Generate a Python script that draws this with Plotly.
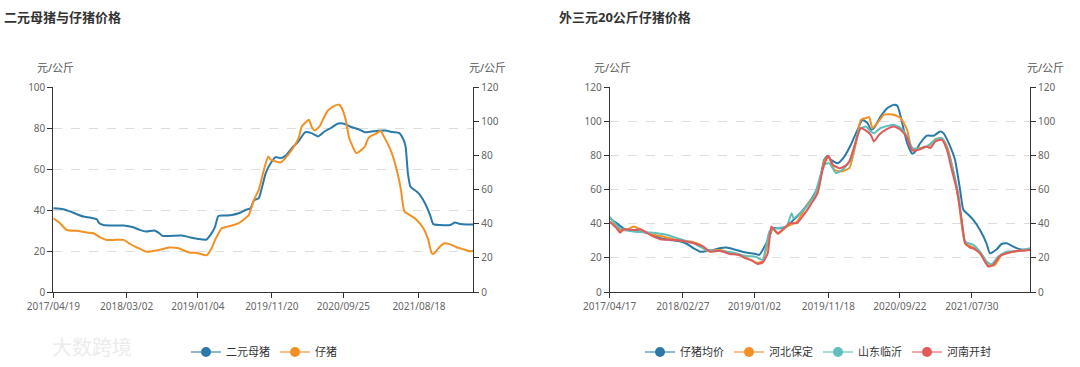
import plotly.graph_objects as go

# ---------------- Left chart: 二元母猪与仔猪价格 ----------------
left_ticks = ["2017-04-19", "2018-03-02", "2019-01-04", "2019-11-20", "2020-09-25", "2021-08-18"]
left_ticktext = ["2017/04/19", "2018/03/02", "2019/01/04", "2019/11/20", "2020/09/25", "2021/08/18"]
left_range = ["2017-04-19", "2022-04-10"]

sow_dates = ["2017-04-19", "2017-06-01", "2017-06-30", "2017-07-29", "2017-08-27", "2017-09-25",
             "2017-10-24", "2017-11-03", "2017-11-22", "2018-01-04", "2018-02-17", "2018-03-31",
             "2018-04-28", "2018-05-26", "2018-06-30", "2018-07-21", "2018-08-04", "2018-09-15",
             "2018-10-27", "2018-12-08", "2019-01-05", "2019-02-11", "2019-03-05", "2019-03-20",
             "2019-04-03", "2019-05-02", "2019-06-01", "2019-06-30", "2019-07-29", "2019-08-20",
             "2019-09-04", "2019-09-25", "2019-10-10", "2019-10-25", "2019-11-16", "2019-12-07",
             "2019-12-28", "2020-01-18", "2020-02-15", "2020-03-15", "2020-04-12", "2020-05-10",
             "2020-06-07", "2020-07-05", "2020-08-02", "2020-08-31", "2020-09-28", "2020-10-28",
             "2020-11-27", "2020-12-27", "2021-01-25", "2021-02-24", "2021-03-26", "2021-04-25",
             "2021-05-25", "2021-06-09", "2021-06-21", "2021-07-01", "2021-07-12", "2021-08-08",
             "2021-08-22", "2021-09-13", "2021-10-05", "2021-10-19", "2021-11-17", "2021-12-30",
             "2022-01-21", "2022-02-11", "2022-03-12", "2022-04-10"]
sow_vals = [40.9, 40.4, 39.3, 38.0, 36.8, 36.3,
            35.5, 33.6, 32.7, 32.4, 32.4, 31.6,
            30.3, 29.5, 30.0, 28.7, 27.4, 27.4,
            27.5, 26.5, 25.9, 25.6, 28.7, 31.9,
            37.1, 37.3, 37.6, 38.4, 40.0, 40.9,
            44.6, 45.8, 51.5, 58.0, 62.9, 65.8,
            65.3, 66.4, 70.2, 73.5, 77.9, 77.5,
            75.9, 78.3, 80.0, 82.1, 82.1, 80.5,
            79.5, 77.9, 78.3, 78.7, 78.8, 78.0,
            77.5, 75.0, 71.0, 58.0, 51.5, 49.0,
            47.4, 43.3, 37.6, 33.1, 32.7, 32.7,
            33.9, 33.2, 32.9, 32.9]

piglet_dates = ["2017-04-19", "2017-05-18", "2017-06-16", "2017-07-29", "2017-09-11", "2017-10-10",
                "2017-11-08", "2017-12-07", "2018-01-04", "2018-02-17", "2018-03-17", "2018-04-14",
                "2018-05-26", "2018-06-23", "2018-07-21", "2018-09-01", "2018-10-13", "2018-11-24",
                "2019-01-05", "2019-02-11", "2019-03-05", "2019-03-20", "2019-04-18", "2019-06-01",
                "2019-06-30", "2019-07-29", "2019-08-13", "2019-09-04", "2019-09-25", "2019-10-17",
                "2019-11-05", "2019-11-16", "2019-12-07", "2019-12-28", "2020-01-18", "2020-02-15",
                "2020-03-15", "2020-03-29", "2020-04-12", "2020-04-29", "2020-05-10", "2020-05-24",
                "2020-06-14", "2020-06-28", "2020-07-19", "2020-08-17", "2020-09-07", "2020-09-21",
                "2020-10-05", "2020-10-20", "2020-11-04", "2020-11-19", "2020-12-04", "2020-12-27",
                "2021-01-11", "2021-01-25", "2021-02-17", "2021-03-04", "2021-03-19", "2021-04-10",
                "2021-04-25", "2021-05-17", "2021-06-01", "2021-06-16", "2021-07-09", "2021-08-08",
                "2021-09-06", "2021-09-27", "2021-10-12", "2021-10-19", "2021-11-17", "2021-12-08",
                "2022-01-06", "2022-01-28", "2022-02-26", "2022-03-26", "2022-04-10"]
piglet_vals = [43.2, 40.3, 36.3, 35.8, 34.8, 34.4,
               32.0, 30.5, 30.5, 30.5, 28.1, 26.2,
               23.6, 24.0, 24.6, 26.0, 25.6, 23.3,
               22.7, 21.5, 25.6, 30.5, 37.3, 38.9,
               40.3, 43.2, 45.1, 53.9, 59.8, 71.5,
               79.3, 77.4, 76.4, 75.8, 78.4, 83.3,
               90.1, 96.9, 98.9, 100.8, 96.9, 94.6,
               96.9, 100.8, 106.1, 109.0, 109.6, 106.7,
               100.8, 90.1, 85.2, 81.3, 82.3, 85.2,
               90.1, 91.5, 93.0, 94.4, 91.1, 85.2,
               80.3, 69.6, 59.8, 47.1, 45.1, 42.2,
               37.3, 30.5, 22.7, 22.3, 26.6, 28.5,
               27.6, 26.2, 25.0, 23.8, 24.2]

# ---------------- Right chart: 外三元20公斤仔猪价格 ----------------
right_ticks = ["2017-04-17", "2018-02-27", "2019-01-02", "2019-11-18", "2020-09-22", "2021-07-30"]
right_ticktext = ["2017/04/17", "2018/02/27", "2019/01/02", "2019/11/18", "2020/09/22", "2021/07/30"]
right_range = ["2017-04-17", "2022-04-07"]

avg_dates = ["2017-04-17", "2017-05-17", "2017-06-15", "2017-07-14", "2017-08-27", "2017-10-09",
             "2017-11-22", "2018-01-04", "2018-02-17", "2018-03-17", "2018-04-15", "2018-05-13",
             "2018-06-10", "2018-07-08", "2018-08-05", "2018-09-03", "2018-10-15", "2018-11-26",
             "2019-01-08", "2019-01-23", "2019-02-07", "2019-03-08", "2019-03-23", "2019-04-22",
             "2019-05-21", "2019-06-20", "2019-07-19", "2019-08-18", "2019-09-17", "2019-10-09",
             "2019-10-31", "2019-11-15", "2019-11-29", "2019-12-28", "2020-01-26", "2020-02-23",
             "2020-03-23", "2020-04-13", "2020-05-05", "2020-05-19", "2020-06-02", "2020-07-01",
             "2020-07-30", "2020-08-27", "2020-09-11", "2020-09-25", "2020-10-23", "2020-11-14",
             "2020-11-28", "2020-12-19", "2021-01-17", "2021-02-15", "2021-03-15", "2021-03-29",
             "2021-04-27", "2021-05-18", "2021-06-09", "2021-06-23", "2021-07-08", "2021-08-05",
             "2021-09-03", "2021-10-01", "2021-10-16", "2021-11-14", "2021-12-05", "2021-12-27",
             "2022-01-25", "2022-02-22", "2022-04-07"]
avg_vals = [43.2, 40.3, 37.3, 36.0, 35.4, 34.0,
            31.5, 30.5, 29.5, 28.1, 25.6, 23.6,
            24.0, 24.6, 25.6, 26.0, 24.6, 23.1,
            22.3, 21.7, 24.6, 32.4, 37.3, 37.3,
            38.3, 42.2, 46.1, 51.0, 56.9, 63.7,
            77.4, 79.7, 77.4, 75.4, 79.3, 86.2,
            95.0, 100.8, 98.9, 95.0, 96.0, 102.8,
            107.7, 109.6, 109.0, 102.8, 87.2, 80.9,
            82.3, 87.2, 91.5, 91.5, 94.0, 93.0,
            85.2, 77.4, 59.8, 48.1, 46.1, 42.2,
            36.3, 28.5, 22.7, 25.0, 28.1, 28.5,
            26.6, 25.0, 24.6]

hebei_dates = ["2017-04-17", "2017-06-01", "2017-06-30", "2017-07-29", "2017-08-27", "2017-10-09",
               "2017-12-06", "2018-02-02", "2018-03-31", "2018-05-13", "2018-06-10", "2018-08-05",
               "2018-10-01", "2018-11-26", "2019-01-08", "2019-02-07", "2019-03-08", "2019-03-23",
               "2019-04-14", "2019-05-21", "2019-07-05", "2019-08-18", "2019-10-02", "2019-10-31",
               "2019-11-18", "2019-12-14", "2020-01-11", "2020-02-16", "2020-03-16", "2020-04-06",
               "2020-04-27", "2020-05-12", "2020-05-26", "2020-06-17", "2020-07-15", "2020-08-27",
               "2020-09-25", "2020-10-23", "2020-11-14", "2020-12-19", "2021-01-24", "2021-02-22",
               "2021-03-22", "2021-04-13", "2021-05-11", "2021-06-02", "2021-07-01", "2021-08-05",
               "2021-09-17", "2021-10-09", "2021-11-06", "2021-12-05", "2022-01-25", "2022-04-07"]
hebei_vals = [43.8, 36.3, 36.3, 38.3, 36.7, 34.0,
              32.4, 30.5, 29.5, 27.6, 24.2, 24.6,
              22.7, 20.3, 17.2, 17.8, 32.4, 37.3,
              34.0, 38.3, 41.2, 51.0, 58.8, 76.4,
              79.3, 71.5, 70.6, 72.5, 87.2, 100.8,
              101.8, 102.4, 96.0, 98.9, 103.8, 103.8,
              101.8, 95.0, 83.3, 84.3, 85.2, 89.5,
              90.1, 85.2, 70.6, 53.9, 28.5, 26.0,
              20.7, 15.8, 15.8, 21.7, 23.6, 25.0]

shandong_dates = ["2017-04-17", "2017-06-01", "2017-07-29", "2017-10-09", "2017-12-21", "2018-02-17",
                  "2018-04-15", "2018-06-10", "2018-08-05", "2018-10-01", "2018-11-26", "2019-01-08",
                  "2019-02-07", "2019-03-08", "2019-04-07", "2019-05-21", "2019-06-12", "2019-06-20",
                  "2019-08-03", "2019-09-17", "2019-10-31", "2019-11-22", "2019-12-21", "2020-01-19",
                  "2020-02-23", "2020-03-30", "2020-04-27", "2020-05-19", "2020-06-02", "2020-07-01",
                  "2020-08-27", "2020-09-25", "2020-10-23", "2020-11-14", "2020-12-19", "2021-01-17",
                  "2021-02-22", "2021-03-22", "2021-04-13", "2021-05-11", "2021-06-02", "2021-07-01",
                  "2021-08-05", "2021-09-03", "2021-10-01", "2021-10-23", "2021-11-21", "2021-12-27",
                  "2022-02-22", "2022-04-07"]
shandong_vals = [43.8, 37.3, 35.4, 34.8, 33.4, 30.9,
                 28.5, 24.6, 24.0, 23.1, 21.1, 20.7,
                 18.8, 35.4, 37.3, 38.3, 46.1, 43.2,
                 48.1, 55.9, 74.5, 75.4, 69.6, 71.7,
                 77.4, 95.0, 96.9, 94.0, 93.0, 96.0,
                 97.9, 96.0, 91.1, 84.3, 83.7, 85.2,
                 89.1, 90.1, 84.3, 70.6, 56.9, 29.5,
                 27.6, 23.6, 17.8, 16.2, 20.7, 23.6,
                 24.0, 25.6]

henan_dates = ["2017-04-17", "2017-05-17", "2017-06-01", "2017-06-15", "2017-07-29", "2017-08-27",
               "2017-10-09", "2017-11-22", "2018-01-19", "2018-03-03", "2018-04-15", "2018-05-27",
               "2018-06-24", "2018-08-05", "2018-09-17", "2018-10-29", "2018-11-26", "2018-12-24",
               "2019-01-15", "2019-02-07", "2019-03-01", "2019-03-16", "2019-03-30", "2019-04-14",
               "2019-05-06", "2019-06-05", "2019-07-05", "2019-08-03", "2019-09-02", "2019-10-02",
               "2019-10-24", "2019-11-08", "2019-11-18", "2019-12-07", "2020-01-04", "2020-01-26",
               "2020-02-16", "2020-03-09", "2020-04-06", "2020-04-27", "2020-05-19", "2020-06-02",
               "2020-06-24", "2020-07-23", "2020-08-27", "2020-09-25", "2020-10-23", "2020-11-14",
               "2020-12-12", "2021-01-10", "2021-01-31", "2021-02-22", "2021-03-22", "2021-04-13",
               "2021-05-04", "2021-05-26", "2021-06-16", "2021-07-01", "2021-07-22", "2021-08-05",
               "2021-09-03", "2021-09-24", "2021-10-09", "2021-10-30", "2021-11-28", "2021-12-27",
               "2022-02-08", "2022-03-09", "2022-04-07"]
henan_vals = [41.2, 37.3, 34.8, 36.7, 36.3, 36.7,
              33.4, 30.9, 30.5, 29.9, 28.5, 26.6,
              23.6, 24.2, 22.3, 21.7, 19.7, 18.4,
              16.4, 17.2, 22.7, 38.3, 36.3, 34.4,
              36.7, 40.3, 40.3, 45.1, 51.0, 57.8,
              71.5, 77.4, 79.7, 74.5, 72.5, 73.5,
              76.4, 85.2, 96.0, 94.6, 92.0, 88.1,
              92.0, 95.0, 96.9, 95.0, 90.1, 82.9,
              83.3, 85.2, 84.3, 88.1, 89.1, 83.3,
              71.5, 59.8, 42.2, 28.5, 26.0, 25.6,
              22.7, 17.8, 14.9, 15.8, 21.1, 22.7,
              24.0, 24.2, 24.6]

left_names = ["二元母猪", "仔猪"]
right_names = ["仔猪均价", "河北保定", "山东临沂", "河南开封"]

BLUE = "#2b79a9"
ORANGE = "#f39024"
TEAL = "#5ebfbc"
RED = "#e05a5b"
LIGHT = {BLUE: "#8fb7d0", ORANGE: "#f7c08a", TEAL: "#a9ddda", RED: "#eea6a6"}

FONT = "Noto Sans, Noto Sans CJK SC, sans-serif"
AXIS_C = "#333333"
TICK_C = "#666666"

fig = go.Figure()

def add_line(x, y, color, xa, ya):
    fig.add_trace(go.Scatter(x=x, y=y, mode="lines", xaxis=xa, yaxis=ya,
                             line=dict(color=color, width=2, shape="spline", smoothing=0.5),
                             showlegend=False, hoverinfo="skip"))

add_line(sow_dates, sow_vals, BLUE, "x", "y")
add_line(piglet_dates, piglet_vals, ORANGE, "x", "y2")
add_line(avg_dates, avg_vals, BLUE, "x2", "y3")
add_line(hebei_dates, hebei_vals, ORANGE, "x2", "y3")
add_line(shandong_dates, shandong_vals, TEAL, "x2", "y3")
add_line(henan_dates, henan_vals, RED, "x2", "y4")

def add_legend(name, color, legend):
    fig.add_trace(go.Scatter(x=[None], y=[None], mode="lines+markers", name=name, legend=legend,
                             line=dict(color=LIGHT[color], width=2),
                             marker=dict(color=color, size=10)))

for n, c in zip(left_names, [BLUE, ORANGE]):
    add_legend(n, c, "legend")
for n, c in zip(right_names, [BLUE, ORANGE, TEAL, RED]):
    add_legend(n, c, "legend2")

ydom = [1 - 292 / 367, 1 - 87 / 367]
lxdom = [53.3 / 1080, 473.3 / 1080]
rxdom = [609.7 / 1080, 1030 / 1080]

tickfont = dict(family=FONT, size=10, color=TICK_C)
common_axis = dict(showline=True, linecolor=AXIS_C, linewidth=1, ticks="outside", ticklen=5,
                   tickcolor=AXIS_C, tickfont=tickfont, zeroline=False, automargin=False)

fig.update_layout(
    width=1080, height=367, autosize=False,
    margin=dict(l=0, r=0, t=0, b=0, pad=0, autoexpand=False),
    paper_bgcolor="white", plot_bgcolor="white",
    font=dict(family=FONT, color="#333333"),
    xaxis=dict(domain=lxdom, anchor="y", type="date", range=left_range,
               tickvals=left_ticks, ticktext=left_ticktext, showgrid=False, **common_axis),
    yaxis=dict(domain=ydom, anchor="x", range=[0, 100], dtick=20, showgrid=True,
               gridcolor="#dddddd", griddash="dash", gridwidth=1, **common_axis),
    yaxis2=dict(overlaying="y", anchor="x", side="right", range=[0, 120], dtick=20,
                showgrid=False, **common_axis),
    xaxis2=dict(domain=rxdom, anchor="y3", type="date", range=right_range,
                tickvals=right_ticks, ticktext=right_ticktext, showgrid=False, **common_axis),
    yaxis3=dict(domain=ydom, anchor="x2", range=[0, 120], dtick=20, showgrid=True,
                gridcolor="#dddddd", griddash="dash", gridwidth=1, **common_axis),
    yaxis4=dict(overlaying="y3", anchor="x2", side="right", range=[0, 120], dtick=20,
                showgrid=False, **common_axis),
    legend=dict(orientation="h", x=264 / 1080, xanchor="center", y=1 - 352 / 367, yanchor="middle",
                font=dict(family=FONT, size=11, color="#333333"), itemwidth=30,
                bgcolor="rgba(0,0,0,0)"),
    legend2=dict(orientation="h", x=818 / 1080, xanchor="center", y=1 - 352 / 367, yanchor="middle",
                 font=dict(family=FONT, size=11, color="#333333"), itemwidth=30,
                 bgcolor="rgba(0,0,0,0)"),
)

annos = [
    dict(text="<b>二元母猪与仔猪价格</b>", x=2, y=17, xanchor="left", size=13, color="#333333"),
    dict(text="<b>外三元20公斤仔猪价格</b>", x=557, y=17, xanchor="left", size=13, color="#333333"),
    dict(text="元/公斤", x=55, y=67, xanchor="center", size=11, color="#555555"),
    dict(text="元/公斤", x=487, y=67, xanchor="center", size=11, color="#555555"),
    dict(text="元/公斤", x=613, y=67, xanchor="center", size=11, color="#555555"),
    dict(text="元/公斤", x=1045, y=67, xanchor="center", size=11, color="#555555"),
    dict(text="大数跨境", x=50, y=347, xanchor="left", size=20, color="#ececec"),
]
for a in annos:
    fig.add_annotation(text=a["text"], xref="paper", yref="paper", x=a["x"] / 1080, y=1 - a["y"] / 367,
                       xanchor=a["xanchor"], yanchor="middle", showarrow=False,
                       font=dict(family=FONT, size=a["size"], color=a["color"]))

fig.write_html("out.html", config={"displayModeBar": False},
               post_script="document.body.style.margin='0';document.body.style.overflow='hidden';")
